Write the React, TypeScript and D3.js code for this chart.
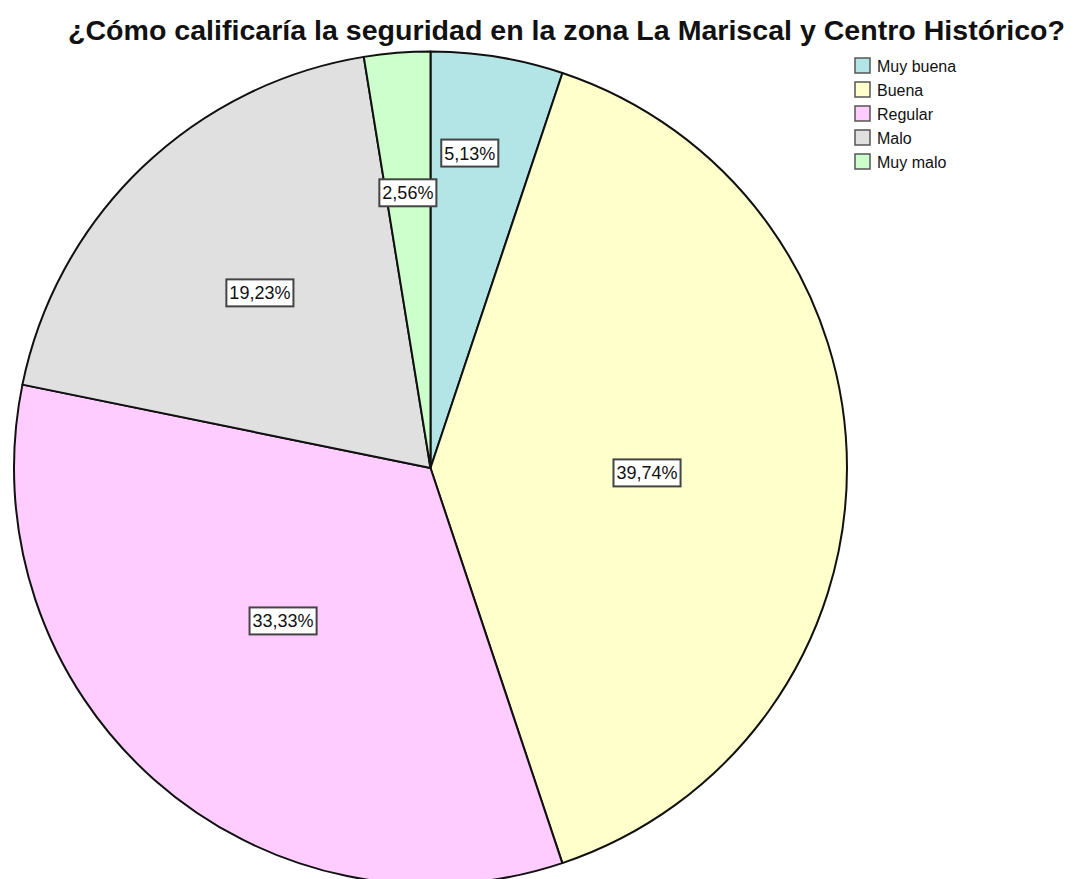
import * as d3 from "d3";
import React, { useRef, useEffect } from "react";

const width = 1075;
const height = 879;

const chartTitle = "¿Cómo calificaría la seguridad en la zona La Mariscal y Centro Histórico?";
const categories = ["Muy buena", "Buena", "Regular", "Malo", "Muy malo"];
const percentages = [5.13, 39.74, 33.33, 19.23, 2.56];
const sliceColors = ["#b3e5e6", "#ffffcc", "#ffccff", "#e0e0e0", "#ccffcc"];

// where the label box sits: fraction of the radius, and fraction along the slice's angle
const labelRadius = [0.762, 0.52, 0.51, 0.587, 0.663];
const labelAlong = [0.385, 0.509, 0.52, 0.494, 0.49];

const center = { x: 430.5, y: 468 };
const radius = 416.5;

const fmt = (v: number) => v.toFixed(2).replace(".", ",") + "%";

const PieChart = () => {
	const d3Container = useRef<SVGSVGElement | null>(null);

	useEffect(() => {
		if (!d3Container.current) return;
		const svg = d3.select(d3Container.current);
		svg.selectAll("*").remove();
		renderChart(svg);
	}, []);

	const renderChart = (svg: any) => {
		const data = categories.map((c, i) => ({ name: c, value: percentages[i], color: sliceColors[i] }));

		const pie = d3
			.pie<any>()
			.sort(null)
			.value((d: any) => d.value);
		const arcs = pie(data);

		const arc = d3.arc<any>().innerRadius(0).outerRadius(radius);

		const g = svg.append("g").attr("transform", `translate(${center.x},${center.y})`);

		g.selectAll(".slice")
			.data(arcs)
			.enter()
			.append("path")
			.attr("class", "slice")
			.attr("d", arc)
			.attr("fill", (d: any) => d.data.color)
			.attr("stroke", "#111")
			.attr("stroke-width", 2)
			.attr("stroke-linejoin", "round");

		// value labels in boxes
		const labels = g
			.selectAll(".label")
			.data(arcs)
			.enter()
			.append("g")
			.attr("class", "label")
			.attr("transform", (d: any, i: number) => {
				const a = d.startAngle + (d.endAngle - d.startAngle) * labelAlong[i];
				const r = radius * labelRadius[i];
				return `translate(${r * Math.sin(a)},${-r * Math.cos(a)})`;
			});

		labels.each(function (this: any, d: any) {
			const lg = d3.select(this);
			const txt = lg
				.append("text")
				.attr("text-anchor", "middle")
				.attr("dy", "0.36em")
				.attr("font-family", "Liberation Sans, Arial, sans-serif")
				.attr("font-size", 18)
				.attr("fill", "#111")
				.text(fmt(d.data.value));
			const bb = (txt.node() as SVGTextElement).getBBox();
			lg.insert("rect", "text")
				.attr("x", bb.x - 3)
				.attr("y", -13.5)
				.attr("width", bb.width + 6)
				.attr("height", 27)
				.attr("fill", "white")
				.attr("stroke", "#444")
				.attr("stroke-width", 2);
		});

		// title
		svg.append("text")
			.attr("x", 566.5)
			.attr("y", 40)
			.attr("text-anchor", "middle")
			.attr("font-family", "Liberation Sans, Arial, sans-serif")
			.attr("font-weight", "bold")
			.attr("font-size", 27)
			.attr("textLength", 997)
			.attr("lengthAdjust", "spacingAndGlyphs")
			.attr("fill", "#111")
			.text(chartTitle);

		// legend
		const legend = svg
			.selectAll(".legend-item")
			.data(data)
			.enter()
			.append("g")
			.attr("class", "legend-item")
			.attr("transform", (d: any, i: number) => `translate(855,${58 + i * 24})`);

		legend
			.append("rect")
			.attr("width", 15)
			.attr("height", 15)
			.attr("fill", (d: any) => d.color)
			.attr("stroke", "#555")
			.attr("stroke-width", 1.5);

		legend
			.append("text")
			.attr("x", 22)
			.attr("y", 13.5)
			.attr("font-family", "Liberation Sans, Arial, sans-serif")
			.attr("font-size", 16)
			.attr("fill", "#111")
			.text((d: any) => d.name);
	};

	return (
		<svg
			width={width}
			height={height}
			style={{ position: "absolute", left: 0, top: 0, backgroundColor: "white" }}
			ref={d3Container}
		/>
	);
};

export default function App() {
	return <PieChart />;
}
